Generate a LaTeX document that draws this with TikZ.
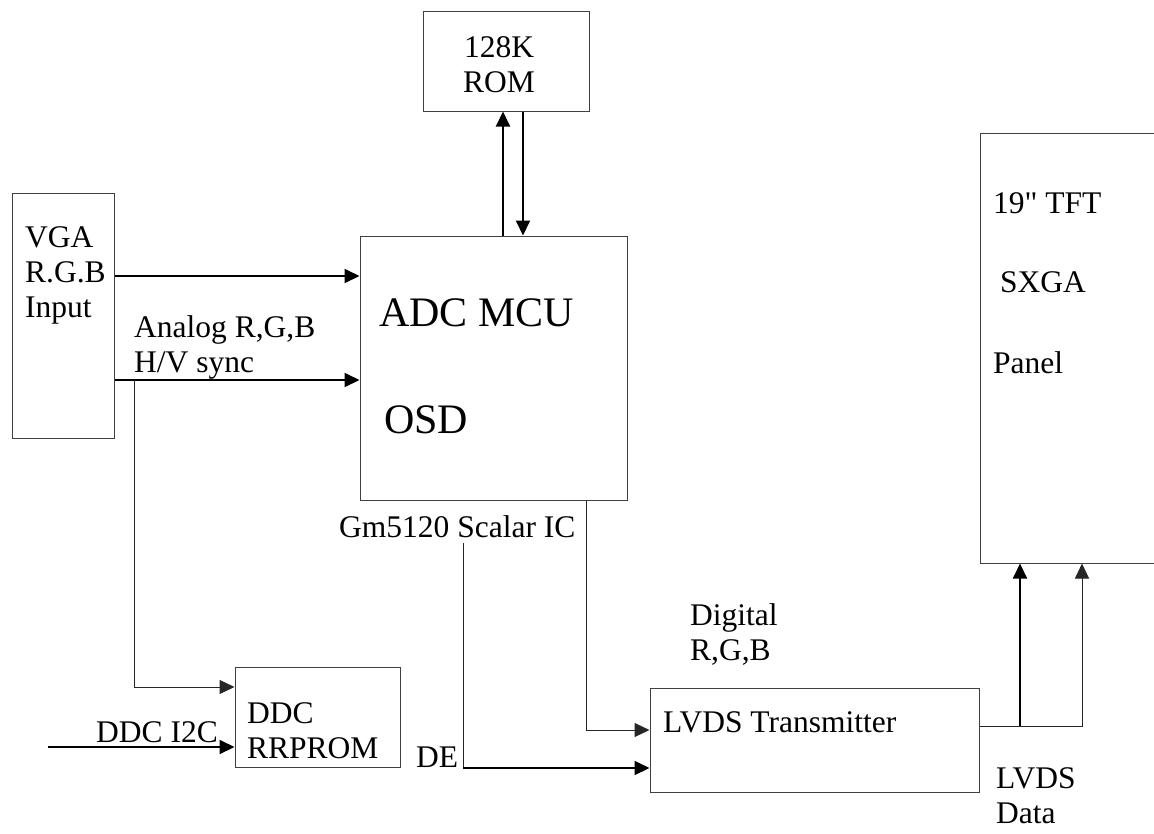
\documentclass[tikz,border=0pt]{standalone}
\usepackage{fontspec}
\setmainfont{Liberation Serif}[Ligatures=TeXOff]
\usepackage{tikz}
\usetikzlibrary{calc,arrows.meta}

\begin{document}
\begin{tikzpicture}[x=1pt,y=-1pt,>={Triangle[length=15pt,width=14pt]},
  blk/.style={draw=black!75,line width=1pt,inner sep=0pt},
  wire/.style={line width=1pt,black!85},
  bus/.style={line width=2pt,black},
  lbl/.style={font=\fontsize{31.5}{35}\selectfont,anchor=base west,inner sep=0pt,align=left},
  big/.style={font=\fontsize{42}{46}\selectfont,anchor=base west,inner sep=0pt}]
  \useasboundingbox (0,0) rectangle (1154,833);
  \clip (0,0) rectangle (1154,833);
  \node[blk,minimum width=166pt,minimum height=100pt] (rom) at (506,61) {};
  \node[blk,minimum width=102pt,minimum height=245pt] (vga) at (63,315.5) {};
  \node[blk,minimum width=267pt,minimum height=264pt] (mcu) at (493.5,368) {};
  \node[blk,minimum width=165pt,minimum height=100pt] (ddc) at (317.5,717) {};
  \node[blk,minimum width=329pt,minimum height=104pt] (lvds) at (814.5,740) {};
  \node[blk,minimum width=200pt,minimum height=430pt] (panel) at (1080,348) {};
  \node[lbl,align=center,anchor=base] (romt) at (499,92) {128K\\ROM};
  \node[lbl] (vgat) at (25,317) {VGA\\R.G.B\\Input};
  \node[lbl] (anat) at (134,372) {Analog R,G,B\\H/V sync};
  \node[big] (adct) at (379,326) {ADC MCU};
  \node[big] (osdt) at (384,433) {OSD};
  \node[lbl] (gmt) at (339,537) {Gm5120 Scalar IC};
  \node[lbl] (ddct) at (247,758) {DDC\\RRPROM};
  \node[lbl] (i2ct) at (96,742) {DDC I2C};
  \node[lbl] (det) at (416,767) {DE};
  \node[lbl] (digt) at (690,660) {Digital\\R,G,B};
  \node[lbl] (lvdst) at (663,732) {LVDS Transmitter};
  \node[lbl] (datat) at (996,823) {LVDS\\Data};
  \node[lbl] (tftt) at (993,213) {19" TFT};
  \node[lbl] (sxgat) at (1000,292) {SXGA};
  \node[lbl] (panelt) at (993,373) {Panel};
  \coordinate (yrgb) at (0,276);
  \coordinate (ysync) at (0,380);
  \coordinate (tap) at (134,380);
  \coordinate (yddc) at (0,687);
  \coordinate (i2cin) at (48,747);
  \coordinate (xdig) at (586,0);
  \coordinate (ydig) at (0,730);
  \coordinate (destart) at (463,543);
  \coordinate (decorner) at (463,768);
  \coordinate (yout) at (0,726);
  \coordinate (xlink) at ($(panel.south)+(-60,0)$);
  \draw[bus,->] ($(mcu.north)+(9.5,0)$) -- ($(rom.south)+(-3,0)$);
  \draw[bus,->] ($(rom.south)+(17,0)$) -- ($(mcu.north)+(29.5,0)$);
  \draw[bus,->] (vga.east |- yrgb) -- (mcu.west |- yrgb);
  \draw[bus,->] (vga.east |- ysync) -- (mcu.west |- ysync);
  \draw[wire,->] (tap) |- (ddc.west |- yddc);
  \draw[bus,->] (i2cin) -- (ddc.west |- i2cin);
  \draw[wire,->] (mcu.south -| xdig) |- (lvds.west |- ydig);
  \draw[wire] (destart) -- (decorner);
  \draw[bus,->] (decorner) -- (lvds.west |- decorner);
  \draw[wire,->] (lvds.east |- yout) -| ($(panel.south)+(2,0)$);
  \draw[bus,->] (xlink |- yout) -- (xlink);
\end{tikzpicture}
\end{document}
